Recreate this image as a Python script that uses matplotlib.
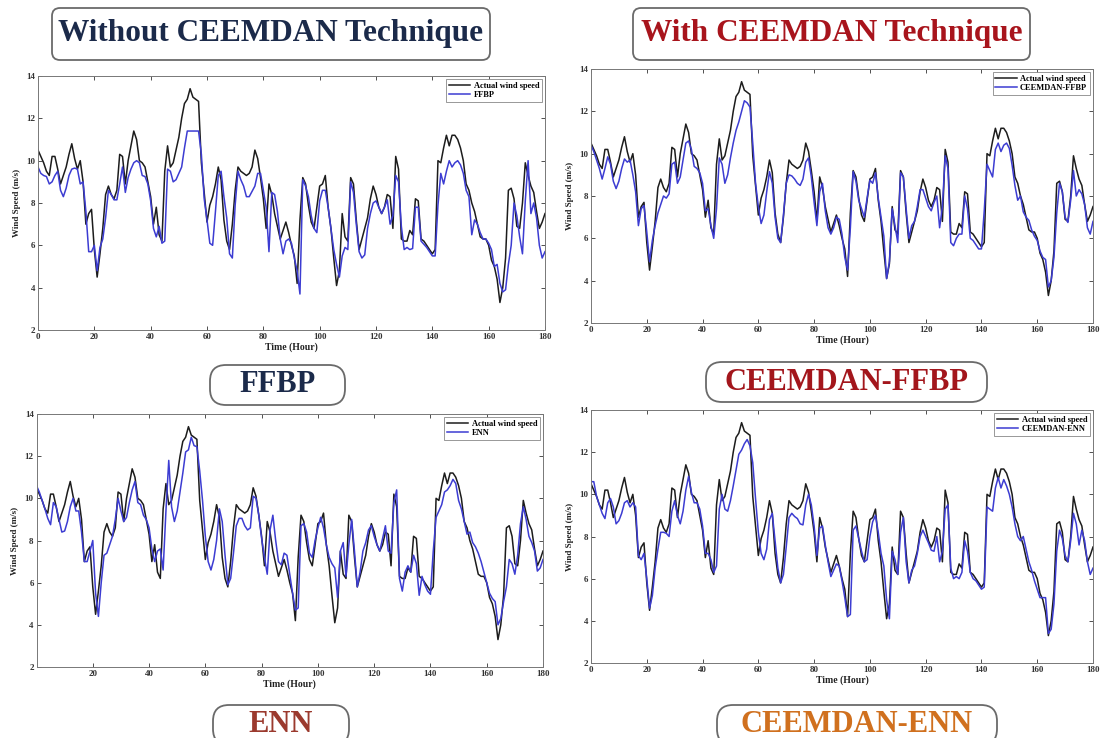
import matplotlib
matplotlib.use("Agg")
import matplotlib.pyplot as plt
from matplotlib.patches import FancyBboxPatch
from matplotlib.transforms import IdentityTransform
import numpy as np

hours = list(range(0, 181))

actual = [10.5, 10.2, 9.9, 9.5, 9.3, 10.2, 10.2, 9.6, 8.9, 9.3,
          9.7, 10.3, 10.8, 10.1, 9.6, 10.0, 9.0, 7.0, 7.5, 7.7,
          5.8, 4.5, 5.6, 6.8, 8.4, 8.8, 8.4, 8.2, 8.6, 10.3,
          10.2, 8.9, 10.0, 10.7, 11.4, 11.0, 10.0, 9.9, 9.7, 9.0,
          8.3, 7.0, 7.8, 6.5, 6.2, 9.5, 10.7, 9.7, 9.9, 10.5,
          11.1, 12.0, 12.7, 12.9, 13.4, 13.0, 12.9, 12.8, 9.9, 8.5,
          7.1, 7.9, 8.3, 8.9, 9.7, 9.1, 7.2, 6.2, 5.8, 7.0,
          8.6, 9.7, 9.5, 9.4, 9.3, 9.4, 9.7, 10.5, 10.1, 9.2,
          8.2, 6.8, 8.9, 8.4, 7.5, 6.9, 6.3, 6.7, 7.1, 6.6,
          6.0, 5.5, 4.2, 7.2, 9.2, 8.9, 7.9, 7.1, 6.8, 7.8,
          8.8, 8.9, 9.3, 7.8, 6.8, 5.4, 4.1, 4.8, 7.5, 6.4,
          6.2, 9.2, 8.9, 7.2, 5.8, 6.3, 6.8, 7.3, 8.2, 8.8,
          8.4, 7.8, 7.5, 7.8, 8.4, 8.3, 6.8, 10.2, 9.6, 6.3,
          6.2, 6.2, 6.7, 6.5, 8.2, 8.1, 6.3, 6.2, 6.0, 5.8,
          5.6, 5.8, 10.0, 9.9, 10.6, 11.2, 10.7, 11.2, 11.2, 11.0,
          10.6, 10.0, 8.9, 8.6, 8.0, 7.6, 7.0, 6.4, 6.3, 6.3,
          6.0, 5.3, 5.0, 4.4, 3.3, 4.0, 5.4, 8.6, 8.7, 8.2,
          6.9, 6.8, 8.0, 9.9, 9.3, 8.8, 8.5, 7.6, 6.8, 7.1,
          7.5]

ffbp = [9.7, 9.4, 9.3, 9.25, 8.9, 9.0, 9.3, 9.5, 8.6, 8.3,
        8.7, 9.3, 9.6, 9.65, 9.6, 8.9, 9.0, 7.6, 5.7, 5.7,
        6.0, 4.8, 5.9, 6.3, 7.3, 8.6, 8.4, 8.15, 8.15, 8.9,
        9.7, 8.5, 9.2, 9.6, 9.9, 10.0, 9.9, 9.3, 9.25, 8.9,
        8.1, 6.8, 6.4, 6.9, 6.1, 6.2, 9.6, 9.5, 9.0, 9.1,
        9.4, 9.7, 10.6, 11.4, 11.4, 11.4, 11.4, 11.4, 10.3, 8.2,
        7.2, 6.1, 6.0, 7.6, 9.3, 9.5, 8.3, 7.3, 5.6, 5.4,
        7.9, 9.5, 9.1, 8.8, 8.3, 8.3, 8.55, 8.8, 9.4, 9.4,
        8.6, 7.8, 5.7, 8.5, 8.4, 7.6, 6.3, 5.6, 6.2, 6.3,
        6.1, 5.4, 4.8, 3.7, 9.1, 8.8, 8.3, 7.4, 6.8, 6.6,
        8.1, 8.6, 8.6, 7.8, 6.8, 5.8, 5.1, 4.5, 5.5, 5.9,
        5.8, 9.0, 8.5, 7.0, 5.7, 5.4, 5.55, 6.8, 7.5, 8.0,
        8.1, 7.8, 7.5, 7.8, 8.15, 7.0, 7.4, 9.3, 9.0, 6.9,
        5.8, 5.9, 5.8, 5.85, 7.8, 7.8, 6.2, 6.05, 5.9, 5.7,
        5.5, 5.5, 7.9, 9.4, 8.9, 9.5, 10.0, 9.7, 9.9, 10.0,
        9.8, 9.4, 8.6, 8.3, 6.5, 7.2, 7.0, 6.6, 6.3, 6.3,
        6.1, 5.8, 5.0, 5.1, 4.2, 3.8, 3.9, 5.1, 6.0, 8.0,
        7.4, 6.4, 5.6, 8.1, 10.0, 7.5, 8.0, 7.3, 6.0, 5.4,
        5.7]

ceemdan_ffbp = [10.4, 10.1, 9.7, 9.3, 8.8, 9.3, 9.85, 9.5, 8.7, 8.35,
                8.7, 9.3, 9.75, 9.6, 9.7, 9.0, 8.2, 6.6, 7.4, 7.55,
                6.3, 4.9, 5.9, 6.6, 7.2, 7.6, 8.0, 7.9, 8.1, 9.5,
                9.6, 8.6, 8.9, 9.7, 10.5, 10.6, 10.2, 9.4, 9.3, 9.1,
                8.6, 7.3, 7.4, 6.6, 6.0, 7.4, 9.8, 9.5, 8.6, 9.0,
                9.8, 10.5, 11.1, 11.5, 12.0, 12.5, 12.4, 12.2, 10.5, 8.6,
                7.5, 6.7, 7.1, 8.2, 9.15, 8.6, 7.0, 6.0, 5.8, 7.1,
                8.6, 9.0, 8.95, 8.8, 8.6, 8.5, 8.8, 9.6, 9.8, 8.9,
                7.7, 6.6, 8.2, 8.6, 7.3, 6.5, 6.2, 6.5, 7.0, 6.9,
                6.2, 5.1, 4.5, 6.5, 9.15, 8.7, 7.8, 7.4, 7.0, 7.9,
                8.75, 8.6, 9.1, 7.9, 7.0, 6.1, 4.1, 4.9, 7.4, 6.6,
                5.8, 9.1, 8.9, 7.4, 6.0, 6.6, 6.8, 7.5, 8.3, 8.3,
                7.9, 7.5, 7.3, 7.7, 8.0, 6.5, 7.5, 9.9, 9.3, 5.8,
                5.65, 6.0, 6.2, 6.2, 8.0, 7.4, 6.0, 5.9, 5.7, 5.5,
                5.5, 7.3, 9.5, 9.2, 8.9, 10.2, 10.5, 10.1, 10.4, 10.5,
                10.25, 9.45, 8.5, 7.8, 8.0, 7.25, 7.0, 6.85, 6.4, 6.1,
                5.9, 5.4, 5.1, 5.0, 3.7, 4.0, 5.1, 7.2, 8.6, 8.2,
                7.0, 6.75, 7.8, 9.2, 8.0, 8.3, 8.1, 7.6, 6.5, 6.2,
                6.8]

enn = [10.6, 10.3, 9.9, 9.5, 9.05, 8.75, 9.8, 9.6, 9.0, 8.4,
       8.45, 8.9, 9.6, 10.0, 9.4, 9.4, 8.4, 7.0, 7.0, 7.5,
       8.0, 5.5, 4.4, 6.0, 7.3, 7.4, 7.8, 8.2, 9.0, 10.0,
       9.4, 8.9, 9.1, 9.8, 10.4, 10.8, 9.8, 9.7, 9.2, 9.0,
       8.6, 7.6, 7.0, 7.5, 7.6, 6.6, 9.4, 11.8, 9.6, 8.9,
       9.4, 10.3, 11.2, 12.2, 12.3, 12.9, 12.5, 12.45, 11.3, 9.9,
       8.2, 7.0, 6.6, 7.1, 8.0, 9.5, 8.9, 7.3, 5.9, 6.2,
       7.4, 8.7, 9.05, 9.05, 8.7, 8.5, 8.6, 10.1, 10.0, 9.2,
       8.1, 7.2, 6.4, 8.5, 9.2, 8.0, 7.0, 6.85, 7.4, 7.3,
       6.4, 5.5, 4.7, 4.8, 8.7, 8.8, 8.4, 7.4, 7.2, 8.0,
       8.6, 9.1, 8.6, 7.8, 7.2, 6.9, 6.7, 5.3, 7.5, 7.9,
       6.3, 7.8, 9.0, 7.5, 5.8, 6.5, 7.5, 7.9, 8.5, 8.7,
       8.2, 7.8, 7.5, 8.1, 8.7, 7.5, 7.4, 9.8, 10.4, 6.2,
       5.6, 6.5, 6.8, 6.5, 7.3, 6.9, 5.4, 6.3, 5.9, 5.6,
       5.45, 7.5, 9.1, 9.4, 9.7, 10.3, 10.4, 10.6, 10.9, 10.7,
       9.9, 9.5, 8.9, 8.3, 8.4, 7.9, 7.7, 7.4, 7.0, 6.5,
       6.0, 5.5, 5.25, 5.1, 4.0, 4.3, 5.1, 5.8, 7.1, 6.9,
       6.4, 7.3, 8.8, 9.6, 9.0, 8.2, 7.9, 7.5, 6.55, 6.7,
       7.1]

ceemdan_enn = [10.6, 10.6, 9.9, 9.5, 9.1, 8.85, 9.6, 9.8, 9.4, 8.6,
               8.75, 9.1, 9.6, 9.7, 9.4, 9.6, 9.4, 7.1, 6.9, 7.2,
               6.0, 4.6, 5.2, 6.5, 7.4, 8.2, 8.2, 8.15, 8.0, 9.2,
               9.7, 9.0, 8.6, 9.2, 10.2, 10.85, 10.1, 9.6, 9.6, 9.3,
               8.5, 7.2, 7.2, 6.9, 6.3, 6.6, 9.3, 10.0, 9.3, 9.2,
               9.7, 10.4, 11.15, 11.9, 12.1, 12.4, 12.6, 12.3, 11.5, 9.8,
               8.2, 7.2, 6.9, 7.4, 8.8, 9.1, 7.8, 6.5, 5.8, 6.2,
               7.5, 8.9, 9.1, 8.95, 8.85, 8.6, 8.55, 9.5, 10.0, 9.5,
               8.5, 7.1, 8.4, 8.5, 7.6, 6.8, 6.1, 6.4, 6.7, 6.6,
               5.9, 5.1, 4.2, 4.3, 8.3, 8.5, 7.9, 7.3, 6.8, 6.9,
               8.0, 8.7, 9.0, 8.2, 7.2, 6.6, 5.0, 4.1, 7.3, 6.9,
               6.2, 8.2, 8.9, 6.8, 5.8, 6.4, 6.6, 7.2, 8.0, 8.3,
               8.0, 7.7, 7.35, 7.3, 8.0, 6.8, 7.3, 9.3, 9.5, 6.5,
               6.0, 6.1, 6.0, 6.3, 7.8, 7.3, 6.3, 6.0, 5.9, 5.7,
               5.5, 5.6, 9.4, 9.3, 9.2, 10.3, 10.8, 10.3, 10.7, 10.4,
               10.0, 9.4, 8.6, 8.0, 7.8, 8.0, 7.4, 6.8, 6.4, 5.9,
               5.5, 5.1, 5.1, 5.1, 3.4, 3.6, 4.8, 7.3, 8.3, 7.9,
               7.1, 6.8, 7.8, 9.1, 8.6, 7.6, 8.3, 7.8, 6.8, 6.2,
               6.5]

model_names = ["FFBP", "CEEMDAN-FFBP", "ENN", "CEEMDAN-ENN"]
predictions = [ffbp, ceemdan_ffbp, enn, ceemdan_enn]
y_ticks = [2, 4, 6, 8, 10, 12, 14]
x_ticks_full = [0, 20, 40, 60, 80, 100, 120, 140, 160, 180]
x_ticks_enn = [20, 40, 60, 80, 100, 120, 140, 160, 180]
titles = ["Without CEEMDAN Technique", "With CEEMDAN Technique"]

W, H = 1101, 738
fig = plt.figure(figsize=(W / 100, H / 100), dpi=100)
fig.patch.set_facecolor("white")

SERIF = ["Liberation Serif", "DejaVu Serif"]

# axes rectangles in pixels: left, top, right, bottom
rects = [(38, 76, 545, 330), (591, 69, 1093, 323),
         (36.5, 414, 543, 667), (591, 410, 1093, 663)]
x_tick_sets = [x_ticks_full, x_ticks_full, x_ticks_enn, x_ticks_full]

black = "#1c1c1c"
blue = "#3c3cd2"

for i, (l, t, r, b) in enumerate(rects):
    ax = fig.add_axes([l / W, 1 - b / H, (r - l) / W, (b - t) / H])
    ax.plot(hours, actual, color=black, lw=1.1, label="Actual wind speed")
    ax.plot(hours, predictions[i], color=blue, lw=1.1, label=model_names[i])
    ax.set_xlim(0, 180)
    ax.set_ylim(2, 14)
    ax.set_yticks(y_ticks)
    ax.set_xticks(x_tick_sets[i])
    ax.tick_params(direction="in", length=3, width=0.6, top=True, right=True,
                   labelsize=6.5, colors="#333333", pad=2)
    for lab in ax.get_xticklabels() + ax.get_yticklabels():
        lab.set_family(SERIF)
        lab.set_fontweight("bold")
    for s in ax.spines.values():
        s.set_color("#777777")
        s.set_linewidth(0.7)
    ax.set_xlabel("Time (Hour)", family=SERIF, fontweight="bold", fontsize=7,
                  labelpad=1, color="#222222")
    ax.set_ylabel("Wind Speed (m/s)", family=SERIF, fontweight="bold", fontsize=6.5,
                  labelpad=4, color="#222222")
    leg = ax.legend(loc="upper right", prop={"family": SERIF, "weight": "bold", "size": 6},
                    handlelength=2.6, handletextpad=0.4, borderpad=0.3,
                    labelspacing=0.15, fancybox=False, framealpha=1,
                    borderaxespad=0.4)
    leg.get_frame().set_edgecolor("#888888")
    leg.get_frame().set_linewidth(0.6)


def boxed_label(x0, y0, x1, y1, text, color, size, rad=10):
    # pixel coords, origin top-left
    patch = FancyBboxPatch((x0, H - y1), x1 - x0, y1 - y0,
                           boxstyle=f"round,pad=0,rounding_size={rad}",
                           transform=IdentityTransform(), facecolor="white",
                           edgecolor="#6a6a6a", linewidth=1.3)
    fig.add_artist(patch)
    fig.text((x0 + x1) / 2 / W, 1 - (y0 + y1) / 2 / H, text, ha="center", va="center",
             family=SERIF, fontweight="bold", fontsize=size, color=color)


boxed_label(52, 8, 490, 60, titles[0], "#1b2a4a", 22.5, rad=8)
boxed_label(633, 8, 1030, 60, titles[1], "#a8141c", 22.5, rad=8)
boxed_label(210, 365, 345, 405, model_names[0], "#1b2a4a", 22, rad=16)
boxed_label(706, 362, 987, 402, model_names[1], "#a3161c", 22, rad=16)
boxed_label(213, 705, 349, 745, model_names[2], "#9b3a2e", 22, rad=16)
boxed_label(717, 705, 997, 745, model_names[3], "#d0701e", 22, rad=16)

fig.savefig("out.png", dpi=100, facecolor="white")
